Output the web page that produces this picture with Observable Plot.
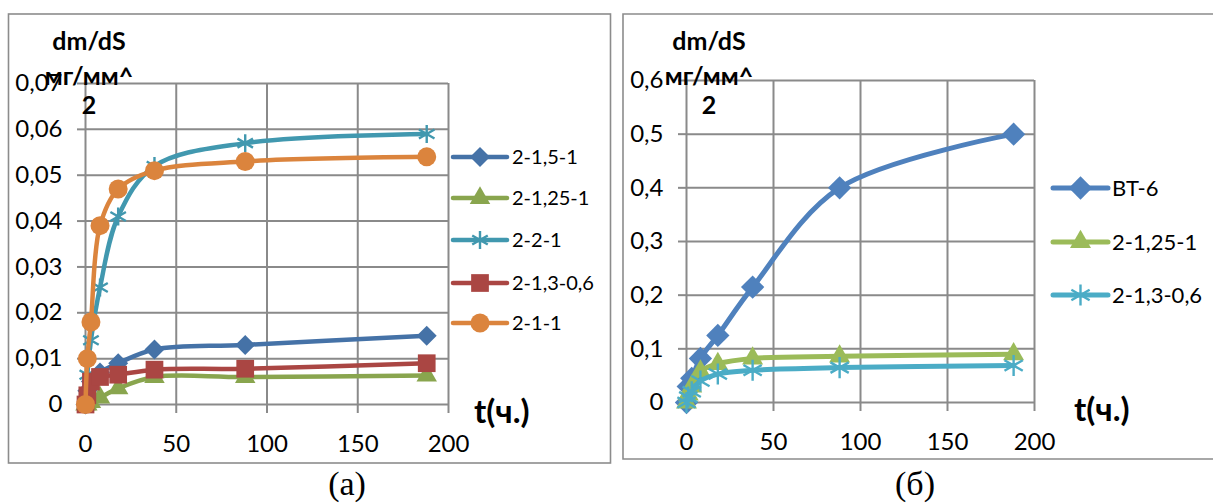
<!DOCTYPE html>
<html><head><meta charset="utf-8">
<script src="https://cdn.jsdelivr.net/npm/d3@7"></script>
<script src="https://cdn.jsdelivr.net/npm/@observablehq/plot@0.6"></script>
<style>
body{margin:0;width:1213px;height:504px;background:#fff;position:relative;overflow:hidden;font-family:Lato,sans-serif}
.pl{position:absolute}
#ov{position:absolute;left:0;top:0;pointer-events:none}
</style></head><body>
<div id="pa" class="pl" style="left:8px;top:14px"></div>
<div id="pb" class="pl" style="left:623px;top:14px"></div>
<svg id="ov" width="1213" height="504"></svg>
<script>
// ---------- DATA ----------
// panel (а)
const timeA = [0, 1, 3, 8, 18, 38, 88, 188];
const namesA = ["2-1,5-1", "2-1,25-1", "2-2-1", "2-1,3-0,6", "2-1-1"];
const s_2_1_5_1  = [0, 0.003, 0.005, 0.007, 0.009, 0.012, 0.013, 0.015];
const s_2_1_25_1 = [0, 0, 0.0005, 0.0015, 0.0035, 0.006, 0.006, 0.0063];
const s_2_2_1    = [0, 0.0065, 0.014, 0.0255, 0.041, 0.052, 0.057, 0.059];
const s_2_1_3_06 = [0, 0.002, 0.005, 0.006, 0.0065, 0.0076, 0.0078, 0.009];
const s_2_1_1    = [0, 0.010, 0.018, 0.039, 0.047, 0.051, 0.053, 0.054];
const xTicks = [0, 50, 100, 150, 200];
const yTicksA = [0, 0.01, 0.02, 0.03, 0.04, 0.05, 0.06, 0.07];
// panel (б)
const timeB = [0, 1, 3, 8, 18, 38, 88, 188];
const namesB = ["ВТ-6", "2-1,25-1", "2-1,3-0,6"];
const b_VT6     = [0, 0.03, 0.045, 0.082, 0.125, 0.215, 0.4, 0.5];
const b_2_1_25_1 = [0, 0.015, 0.03, 0.058, 0.072, 0.082, 0.086, 0.09];
const b_2_1_3_06 = [0, 0.01, 0.02, 0.04, 0.053, 0.06, 0.065, 0.069];
const yTicksB = [0, 0.1, 0.2, 0.3, 0.4, 0.5, 0.6];

// ---------- STYLE ----------
const gridC = "#8a8a8a";
const seriesA = [
  {name: namesA[0], vals: s_2_1_5_1,  color: "#4572A7", symbol: "diamond2", r: 9},
  {name: namesA[1], vals: s_2_1_25_1, color: "#89A54E", symbol: "triangle", r: 7.6},
  {name: namesA[2], vals: s_2_2_1,    color: "#4198AF", symbol: "asterisk", r: 8.5},
  {name: namesA[3], vals: s_2_1_3_06, color: "#AA4643", symbol: "square",   r: 10},
  {name: namesA[4], vals: s_2_1_1,    color: "#DB843D", symbol: "circle",   r: 9.5}
];
const seriesB = [
  {name: namesB[0], vals: b_VT6,      color: "#4F81BD", symbol: "diamond2", r: 10.5},
  {name: namesB[1], vals: b_2_1_25_1, color: "#9BBB59", symbol: "triangle", r: 7.8},
  {name: namesB[2], vals: b_2_1_3_06, color: "#4BACC6", symbol: "asterisk", r: 10}
];
const fmt = d => d === 0 ? "0" : d3.format(".2~f")(d).replace(".", ",");

function seriesMarks(series, times, lw) {
  const marks = [];
  for (const s of series) {
    const rows = times.map((t, i) => ({t, v: s.vals[i]}));
    marks.push(Plot.line(rows, {x: "t", y: "v", stroke: s.color, strokeWidth: lw, curve: "catmull-rom"}));
    if (s.symbol === "asterisk")
      marks.push(Plot.dot(rows, {x: "t", y: "v", symbol: "asterisk", r: s.r, stroke: s.color, strokeWidth: 2.4}));
    else
      marks.push(Plot.dot(rows, {x: "t", y: "v", symbol: s.symbol, r: s.r, fill: s.color, stroke: "none"}));
  }
  return marks;
}

function makePlot(opts) {
  return Plot.plot({
    width: opts.width, height: opts.height,
    marginLeft: opts.ml, marginRight: opts.mr, marginTop: opts.mt, marginBottom: opts.mb,
    x: {domain: [0, 200]},
    y: {domain: opts.ydom},
    style: {fontFamily: "Lato, sans-serif", fontSize: "24px", color: "#000", background: "transparent", overflow: "visible"},
    marks: [
      Plot.gridX(xTicks, {stroke: gridC, strokeOpacity: 1, strokeWidth: 2}),
      Plot.gridY(opts.yticks, {stroke: gridC, strokeOpacity: 1, strokeWidth: 2}),
      Plot.axisX(xTicks, {tickSize: 9, tickPadding: 21, stroke: gridC, strokeWidth: 2, tickFormat: d => String(d), label: null}),
      Plot.axisY(opts.yticks, {tickSize: 8, tickPadding: 15, stroke: gridC, strokeWidth: 2, tickFormat: fmt, label: null}),
      ...seriesMarks(opts.series, opts.times, opts.lw)
    ]
  });
}

document.getElementById("pa").append(makePlot({
  width: 602, height: 449, ml: 77, mr: 162, mt: 69, mb: 59,
  ydom: [0, 0.07], yticks: yTicksA, series: seriesA, times: timeA, lw: 4.5
}));
document.getElementById("pb").append(makePlot({
  width: 590, height: 445, ml: 63, mr: 179, mt: 66, mb: 57,
  ydom: [0, 0.6], yticks: yTicksB, series: seriesB, times: timeB, lw: 5
}));

// ---------- OVERLAY: frames, titles, legends, captions ----------
const ov = d3.select("#ov");
ov.append("rect").attr("x", 8.5).attr("y", 14).attr("width", 602).attr("height", 449)
  .attr("fill", "none").attr("stroke", "#8c8c8c").attr("stroke-width", 1.6);
ov.append("path").attr("d", "M1213,14H623V459H1213")
  .attr("fill", "none").attr("stroke", "#8c8c8c").attr("stroke-width", 1.6);

function txt(x, y, s, size, opts = {}) {
  ov.append("text").attr("x", x).attr("y", y).text(s)
    .attr("font-family", opts.family || "Lato, sans-serif")
    .attr("font-size", size).attr("font-weight", opts.bold ? 700 : 400)
    .attr("text-anchor", opts.anchor || "start").attr("fill", "#000");
}
// axis titles
for (const cx of [89, 709]) {
  txt(cx, 50, "dm/dS", 25, {bold: true, anchor: "middle"});
  txt(cx, 85, "мг/мм^", 25, {bold: true, anchor: "middle"});
  txt(cx, 114, "2", 25, {bold: true, anchor: "middle"});
}
txt(474, 423, "t(ч.)", 33, {bold: true});
txt(1074, 421, "t(ч.)", 33, {bold: true});

// legends
function legend(series, x0, x1, ys, textX, size, lw) {
  series.forEach((s, i) => {
    const y = ys[i];
    ov.append("line").attr("x1", x0).attr("x2", x1).attr("y1", y).attr("y2", y)
      .attr("stroke", s.color).attr("stroke-width", lw).attr("stroke-linecap", "round");
    const symMap = {diamond2: d3.symbolDiamond2, triangle: d3.symbolTriangle, asterisk: d3.symbolAsterisk, square: d3.symbolSquare, circle: d3.symbolCircle};
    const p = d3.symbol(symMap[s.symbol], Math.PI * s.r * s.r)();
    const m = ov.append("path").attr("d", p).attr("transform", `translate(${(x0 + x1) / 2},${y})`);
    if (s.symbol === "asterisk") m.attr("fill", "none").attr("stroke", s.color).attr("stroke-width", 2.4);
    else m.attr("fill", s.color);
    txt(textX, y + size * 0.36, s.name, size);
  });
}
legend(seriesA, 453, 507, [157, 198, 240, 283, 323], 512, 20, 4.5);
legend(seriesB, 1053, 1108, [188, 242, 295], 1112, 22, 5);

// captions
txt(347, 495, "(а)", 34, {family: "Liberation Serif, Times New Roman, serif", anchor: "middle"});
txt(915, 495, "(б)", 34, {family: "Liberation Serif, Times New Roman, serif", anchor: "middle"});
</script>
</body></html>
